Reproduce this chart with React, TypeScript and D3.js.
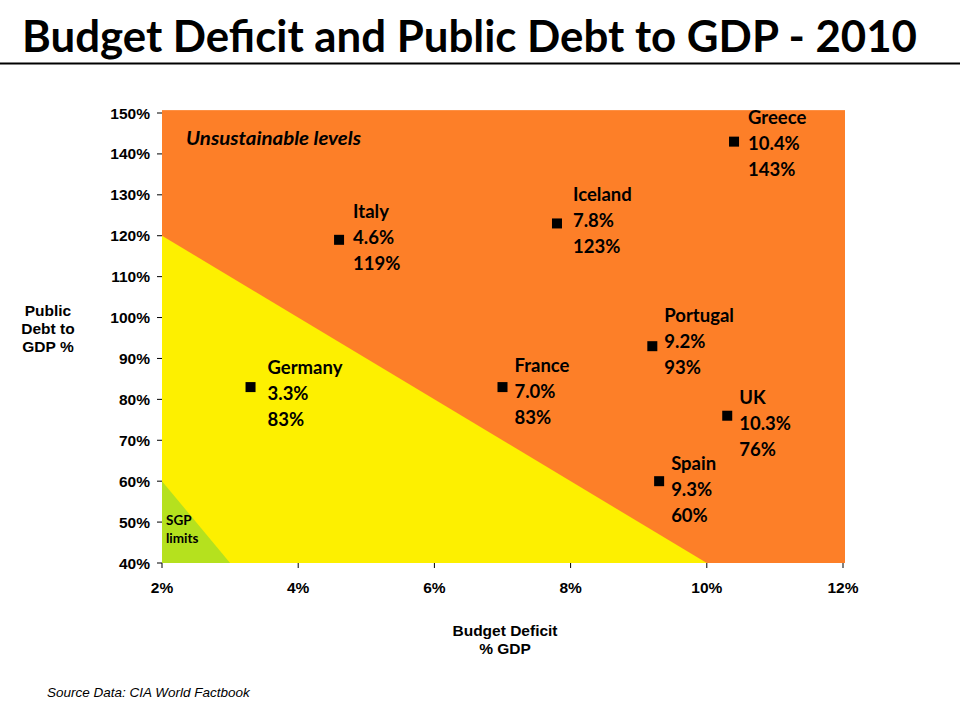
import React from "react";
import * as d3 from "d3";

const countries = ["Greece", "Iceland", "Italy", "Portugal", "France", "Germany", "UK", "Spain"];
const deficit = [10.4, 7.8, 4.6, 9.2, 7.0, 3.3, 10.3, 9.3];
const debt = [143, 123, 119, 93, 83, 83, 76, 60];
// label placement (layout only): offset of first label line from the marker
const labelDx = [14, 16, 14, 12, 12, 17, 12, 12];
const labelDy = [-18, -22, -22, -24, -15, -13, -12, -11];

const xTicks = [2, 4, 6, 8, 10, 12];
const yTicks = [40, 50, 60, 70, 80, 90, 100, 110, 120, 130, 140, 150];

// zones: [deficit, debt] corners
const sustainableZone: [number, number][] = [[2, 120], [10, 40], [2, 40]];
const sgpZone: [number, number][] = [[2, 60], [3, 40], [2, 40]];

const W = 960, H = 720;

export default function App() {
  const x = d3.scaleLinear().domain([2, 12]).range([162, 843]);
  const y = d3.scaleLinear().domain([40, 150]).range([563, 113]);
  const line = d3.line<[number, number]>().x(d => x(d[0])).y(d => y(d[1]));
  const labelFont = "Lato, 'Open Sans', sans-serif";
  const arial = "'Liberation Sans', Arial, sans-serif";
  const fmtPct = (v: number) => `${v.toFixed(1)}%`;

  return (
    <svg width={W} height={H} style={{ position: "absolute", left: 0, top: 0, background: "#fff" }}>
      <text x={22} y={52} fontFamily={labelFont} fontWeight={700} fontSize={44}
        textLength={895} lengthAdjust="spacingAndGlyphs" fill="#000">
        Budget Deficit and Public Debt to GDP - 2010
      </text>
      <line x1={0} x2={960} y1={63.5} y2={63.5} stroke="#000" strokeWidth={2} />

      {/* background zones */}
      <rect x={x(2)} y={y(150.7)} width={x(12) - x(2) + 2} height={y(40) - y(150.7)} fill="#FD7F28" />
      <path d={line(sustainableZone) + "Z"} fill="#FDF000" />
      <path d={line(sgpZone) + "Z"} fill="#B5E11E" />

      {/* y axis ticks */}
      {yTicks.map(t => (
        <g key={"y" + t}>
          <line x1={x(2) - 5} x2={x(2)} y1={y(t)} y2={y(t)} stroke="#000" strokeWidth={1} />
          <text x={150} y={y(t) + 5.5} textAnchor="end" fontFamily={arial} fontWeight={700}
            fontSize={15.5} fill="#000">{t}%</text>
        </g>
      ))}
      {/* x axis ticks */}
      {xTicks.map(t => (
        <g key={"x" + t}>
          <line x1={x(t)} x2={x(t)} y1={y(40)} y2={y(40) + 5} stroke="#000" strokeWidth={1} />
          <text x={x(t)} y={593} textAnchor="middle" fontFamily={arial} fontWeight={700}
            fontSize={15.5} fill="#000">{t}%</text>
        </g>
      ))}

      {/* axis titles */}
      <text fontFamily={arial} fontSize={15.5} fontWeight={700} textAnchor="middle" fill="#000">
        <tspan x={48} y={316}>Public</tspan>
        <tspan x={48} y={334}>Debt to</tspan>
        <tspan x={48} y={352}>GDP %</tspan>
      </text>
      <text fontFamily={arial} fontSize={15.5} fontWeight={700} textAnchor="middle" fill="#000">
        <tspan x={505} y={636}>Budget Deficit</tspan>
        <tspan x={505} y={654}>% GDP</tspan>
      </text>

      <text x={186} y={145} fontFamily={labelFont} fontWeight={700} fontStyle="italic"
        fontSize={19} textLength={175} lengthAdjust="spacingAndGlyphs" fill="#000">Unsustainable levels</text>
      <text fontFamily={labelFont} fontWeight={700} fontSize={13.5} fill="#000">
        <tspan x={166} y={525}>SGP</tspan>
        <tspan x={166} y={543}>limits</tspan>
      </text>

      {/* points */}
      {countries.map((c, i) => {
        const px = x(deficit[i]);
        const py = y(debt[i]);
        const tx = px + labelDx[i];
        const ty = py + labelDy[i];
        return (
          <g key={c}>
            <rect x={px - 5} y={py - 5} width={10} height={10} fill="#000" />
            <text fontFamily={labelFont} fontWeight={700} fontSize={18.5} fill="#000">
              <tspan x={tx} y={ty}>{c}</tspan>
              <tspan x={tx} y={ty + 26}>{fmtPct(deficit[i])}</tspan>
              <tspan x={tx} y={ty + 52}>{debt[i]}%</tspan>
            </text>
          </g>
        );
      })}

      <text x={47} y={697} fontFamily={arial} fontStyle="italic" fontSize={13.5} fill="#000">
        Source Data:  CIA World Factbook
      </text>
    </svg>
  );
}
